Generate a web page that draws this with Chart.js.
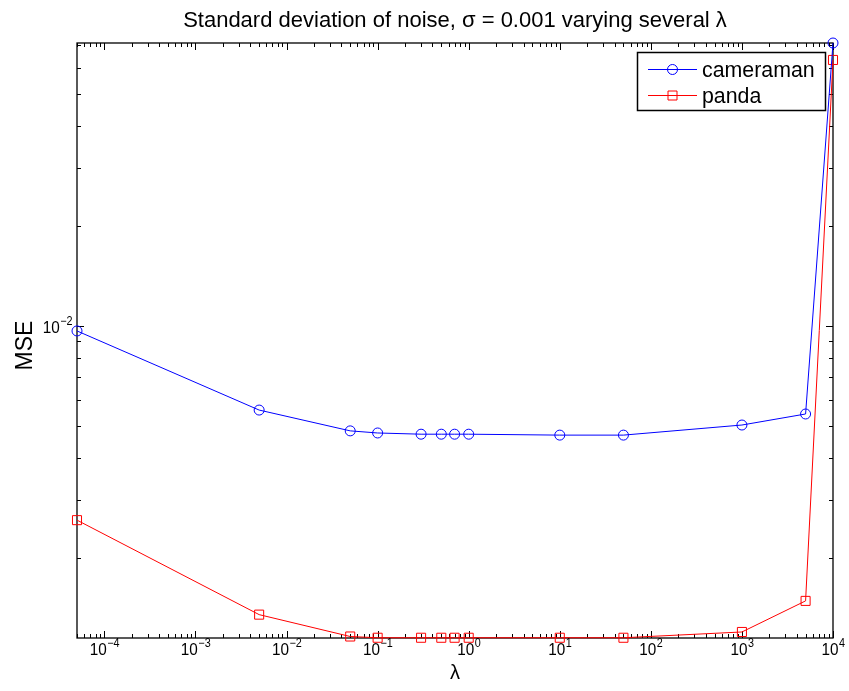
<!DOCTYPE html>
<html>
<head>
<meta charset="utf-8">
<script src="https://cdn.jsdelivr.net/npm/chart.js@4.4.1/dist/chart.umd.min.js"></script>
<style>
  html, body { margin: 0; padding: 0; background: #fff; }
  #wrap { width: 849px; height: 691px; }
</style>
</head>
<body>
<div id="wrap"><canvas id="mseChart" width="849" height="691"></canvas></div>
<script>
// 데이터
const lambdas   = [5e-5, 5e-3, 5e-2, 0.1, 0.3, 0.5, 0.7, 1, 10, 50, 1000, 5000, 10000];
const cameraman = [9.66e-3, 5.58e-3, 4.83e-3, 4.76e-3, 4.72e-3, 4.72e-3, 4.72e-3, 4.72e-3, 4.69e-3, 4.69e-3, 5.03e-3, 5.43e-3, 7.12e-2];
const panda     = [2.60e-3, 1.35e-3, 1.16e-3, 1.15e-3, 1.15e-3, 1.15e-3, 1.15e-3, 1.15e-3, 1.15e-3, 1.15e-3, 1.197e-3, 1.485e-3, 6.33e-2];
const xTickExps = [-4, -3, -2, -1, 0, 1, 2, 3, 4];
const yTickExps = [-2];
const seriesNames = ['cameraman', 'panda'];

const X_MIN = 5e-5, X_MAX = 1e4;
const Y_MIN = 1.148e-3, Y_MAX = 7.12e-2;
const FONT = "'Liberation Sans', Arial, sans-serif";

// 글자 그리기 (sx: 가로 배율)
function drawText(ctx, str, x, y, size, align, sx) {
    ctx.save();
    ctx.font = size + 'px ' + FONT;
    const w = ctx.measureText(str).width * sx;
    let left = x;
    if (align === 'center') left = x - w / 2;
    else if (align === 'right') left = x - w;
    ctx.translate(left, y);
    ctx.scale(sx, 1);
    ctx.textAlign = 'left';
    ctx.textBaseline = 'alphabetic';
    ctx.fillStyle = '#000';
    ctx.fillText(str, 0, 0);
    ctx.restore();
    return w;
}

function textWidth(ctx, str, size, sx) {
    ctx.save();
    ctx.font = size + 'px ' + FONT;
    const w = ctx.measureText(str).width * sx;
    ctx.restore();
    return w;
}

// 10^e 형태 라벨
function drawPow(ctx, exp, x, y, align) {
    const expStr = (exp < 0 ? '\u2212' : '') + Math.abs(exp);
    const a = textWidth(ctx, '10', 17, 0.9);
    const b = textWidth(ctx, expStr, 12, 0.9);
    let left = x;
    if (align === 'center') left = x - (a + b) / 2;
    else if (align === 'right') left = x - (a + b);
    drawText(ctx, '10', left, y, 17, 'left', 0.9);
    drawText(ctx, expStr, left + a + 0.5, y - 8, 12, 'left', 0.9);
}

// 축 상자와 눈금 (MATLAB 스타일: 안쪽 눈금, 네 변 모두)
const axesBox = {
    id: 'axesBox',
    beforeDatasetsDraw(chart) {
        const { ctx, chartArea: ca, scales } = chart;
        const xs = scales.x, ys = scales.y;
        ctx.save();
        ctx.strokeStyle = '#000';
        ctx.lineWidth = 1;

        const tick = (x1, y1, x2, y2) => {
            ctx.beginPath();
            ctx.moveTo(x1, y1);
            ctx.lineTo(x2, y2);
            ctx.stroke();
        };

        // x 눈금
        for (let e = -5; e <= 4; e++) {
            for (let k = 1; k <= 9; k++) {
                const v = k * Math.pow(10, e);
                if (v < X_MIN * 0.999 || v > X_MAX * 1.001) continue;
                const px = Math.round(xs.getPixelForValue(v)) + 0.5;
                const len = k === 1 ? 7 : 4;
                tick(px, ca.bottom, px, ca.bottom - len);
                tick(px, ca.top, px, ca.top + len);
            }
        }
        // y 눈금
        for (let e = -3; e <= -2; e++) {
            for (let k = 1; k <= 9; k++) {
                const v = k * Math.pow(10, e);
                if (v < Y_MIN || v > Y_MAX) continue;
                const py = Math.round(ys.getPixelForValue(v)) + 0.5;
                const len = k === 1 ? 7 : 4;
                tick(ca.left, py, ca.left + len, py);
                tick(ca.right, py, ca.right - len, py);
            }
        }

        ctx.lineWidth = 1.3;
        ctx.strokeRect(ca.left, ca.top, ca.right - ca.left, ca.bottom - ca.top);
        ctx.restore();
    },
    afterDraw(chart) {
        const { ctx, chartArea: ca, scales } = chart;
        const xs = scales.x, ys = scales.y;

        // 눈금 라벨
        xTickExps.forEach(e => {
            drawPow(ctx, e, xs.getPixelForValue(Math.pow(10, e)), ca.bottom + 17, 'center');
        });
        yTickExps.forEach(e => {
            drawPow(ctx, e, ca.left - 5, ys.getPixelForValue(Math.pow(10, e)) + 7, 'right');
        });

        // 제목 / 축 이름
        drawText(ctx, 'Standard deviation of noise, \u03c3 = 0.001 varying several \u03bb',
            (ca.left + ca.right) / 2, 27, 22, 'center', 1);
        drawText(ctx, '\u03bb', (ca.left + ca.right) / 2, 679, 20, 'center', 1);
        ctx.save();
        ctx.translate(32, (ca.top + ca.bottom) / 2 + 5);
        ctx.rotate(-Math.PI / 2);
        drawText(ctx, 'MSE', 0, 0, 23, 'center', 1);
        ctx.restore();

        // 범례
        const lx = 637, ly = 52, lw = 188, lh = 58;
        ctx.save();
        ctx.fillStyle = '#fff';
        ctx.fillRect(lx, ly, lw, lh);
        ctx.strokeStyle = '#000';
        ctx.lineWidth = 1.5;
        ctx.strokeRect(lx + 0.5, ly + 0.5, lw, lh);
        chart.data.datasets.forEach((ds, i) => {
            const y = ly + 17 + i * 26;
            ctx.strokeStyle = ds.borderColor;
            ctx.lineWidth = 1;
            ctx.beginPath();
            ctx.moveTo(lx + 11, y + 0.5);
            ctx.lineTo(lx + 60, y + 0.5);
            ctx.stroke();
            ctx.beginPath();
            if (ds.pointStyle === 'circle') {
                ctx.arc(lx + 35.5, y + 0.5, 5, 0, Math.PI * 2);
            } else {
                ctx.rect(lx + 31, y - 4, 9, 9);
            }
            ctx.stroke();
            drawText(ctx, ds.label, lx + 65, y + 8, 22, 'left', 0.97);
        });
        ctx.restore();
    }
};

const ctx = document.getElementById('mseChart').getContext('2d');
new Chart(ctx, {
    type: 'line',
    data: {
        datasets: [
            {
                label: seriesNames[0],
                data: lambdas.map((x, i) => ({ x: x, y: cameraman[i] })),
                borderColor: '#0000ff',
                backgroundColor: 'rgba(0,0,0,0)',
                borderWidth: 1,
                pointStyle: 'circle',
                pointRadius: 5,
                pointBorderWidth: 1,
                tension: 0,
                clip: false
            },
            {
                label: seriesNames[1],
                data: lambdas.map((x, i) => ({ x: x, y: panda[i] })),
                borderColor: '#ff0000',
                backgroundColor: 'rgba(0,0,0,0)',
                borderWidth: 1,
                pointStyle: 'rect',
                pointRadius: 6.4,
                pointBorderWidth: 1,
                tension: 0,
                clip: false
            }
        ]
    },
    options: {
        responsive: false,
        animation: false,
        devicePixelRatio: 1,
        layout: { padding: { top: 43, right: 16, left: 0, bottom: 0 } },
        plugins: {
            legend: { display: false },
            title: { display: false },
            tooltip: { enabled: false }
        },
        scales: {
            x: {
                type: 'logarithmic',
                min: X_MIN,
                max: X_MAX,
                ticks: { display: false },
                grid: { display: false },
                border: { display: false },
                afterFit(scale) { scale.height = 53; }
            },
            y: {
                type: 'logarithmic',
                min: Y_MIN,
                max: Y_MAX,
                ticks: { display: false },
                grid: { display: false },
                border: { display: false },
                afterFit(scale) { scale.width = 77; }
            }
        }
    },
    plugins: [axesBox]
});
</script>
</body>
</html>
